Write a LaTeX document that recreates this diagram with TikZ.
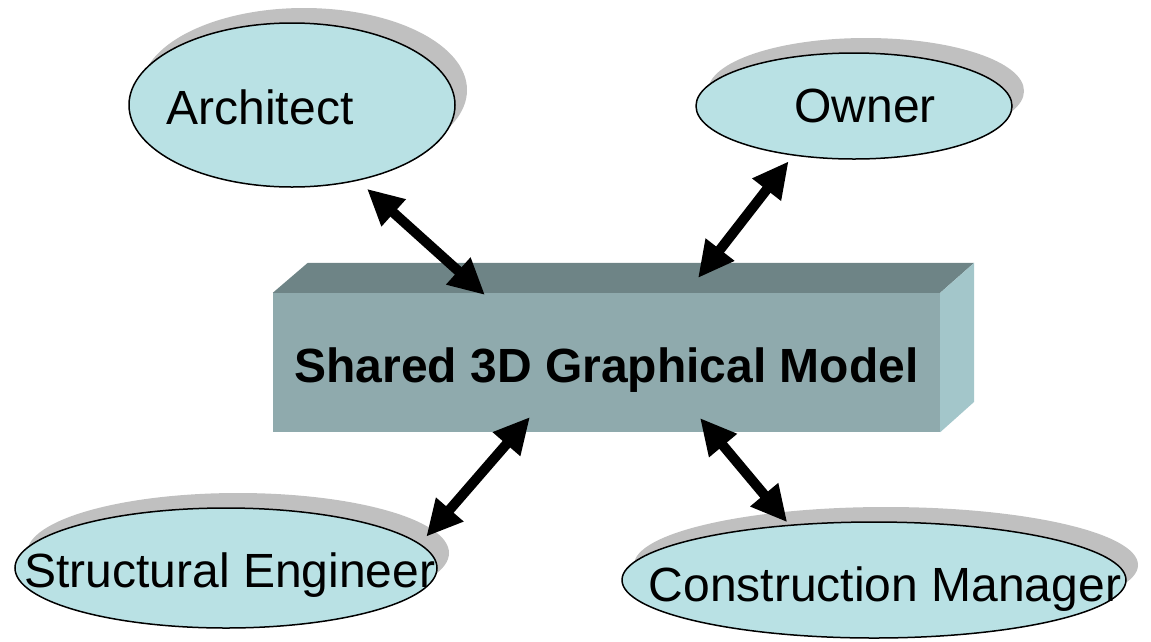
\documentclass[tikz,border=0pt]{standalone}
\usepackage{fontspec}
\setmainfont{Liberation Sans}
\usetikzlibrary{shapes.geometric,shadows,arrows.meta}
\definecolor{partyfill}{RGB}{185,225,228}
\definecolor{partyshade}{RGB}{192,192,192}
\definecolor{boxfront}{RGB}{143,170,173}
\definecolor{boxtop}{RGB}{110,132,134}
\definecolor{boxside}{RGB}{163,198,202}

\begin{document}
\begin{tikzpicture}[x=1pt,y=-1pt,
party/.style={ellipse,draw,line width=1.5pt,fill=partyfill,inner sep=0pt,outer sep=0pt,
 drop shadow={shadow xshift=12pt,shadow yshift=15pt,fill=partyshade,opacity=1}},
partytext/.style={font=\fontsize{48}{56}\selectfont,inner sep=0pt},
model/.style={rectangle,fill=boxfront,minimum width=667pt,minimum height=139pt,
 inner sep=0pt,text height=39pt,text depth=0pt,font=\bfseries\fontsize{48}{56}\selectfont},
link/.style={line width=10pt,{Triangle[length=36pt,width=34pt]}-{Triangle[length=36pt,width=34pt]}}]
\useasboundingbox (0,0) rectangle (1151,641);

% the shared model as a block
\node[model] (model) at (606.5,362.5) {Shared 3D Graphical Model};
\fill[boxtop] (model.north west) -- ++(35,-30)
 -- ([shift={(34,-30)}]model.north east) -- (model.north east) -- cycle;
\fill[boxside] (model.north east) -- ++(34,-30) -- ++(0,139)
 -- (model.south east) -- cycle;

% the four parties
\node[party,minimum width=326pt,minimum height=164pt] (arch) at (292,105) {};
\node[party,minimum width=316pt,minimum height=106pt] (own) at (854,106) {};
\node[party,minimum width=422pt,minimum height=120pt] (struct) at (226,568) {};
\node[party,minimum width=504pt,minimum height=116pt] (cons) at (874,580) {};

\node[partytext,xshift=-32pt,yshift=-2pt] (archText) at (arch) {Architect};
\node[partytext,xshift=11pt] (ownText) at (own) {Owner};
\node[partytext,xshift=4pt,yshift=-7pt] (structText) at (struct) {Structural Engineer};
\node[partytext,xshift=11pt,yshift=-9pt] (consText) at (cons) {Construction Manager};

\coordinate (mArch) at (485,295);
\coordinate (mOwn) at (698,278);
\coordinate (mStruct) at (530,417);
\coordinate (mCons) at (700,418);

\foreach \P/\A/\S/\M in {arch/-49/13/mArch,own/219/8/mOwn,struct/7/10/mStruct,cons/147/4/mCons}
 {\draw[link,shorten <=\S pt] (\P.\A) -- (\M);}

\end{tikzpicture}
\end{document}
